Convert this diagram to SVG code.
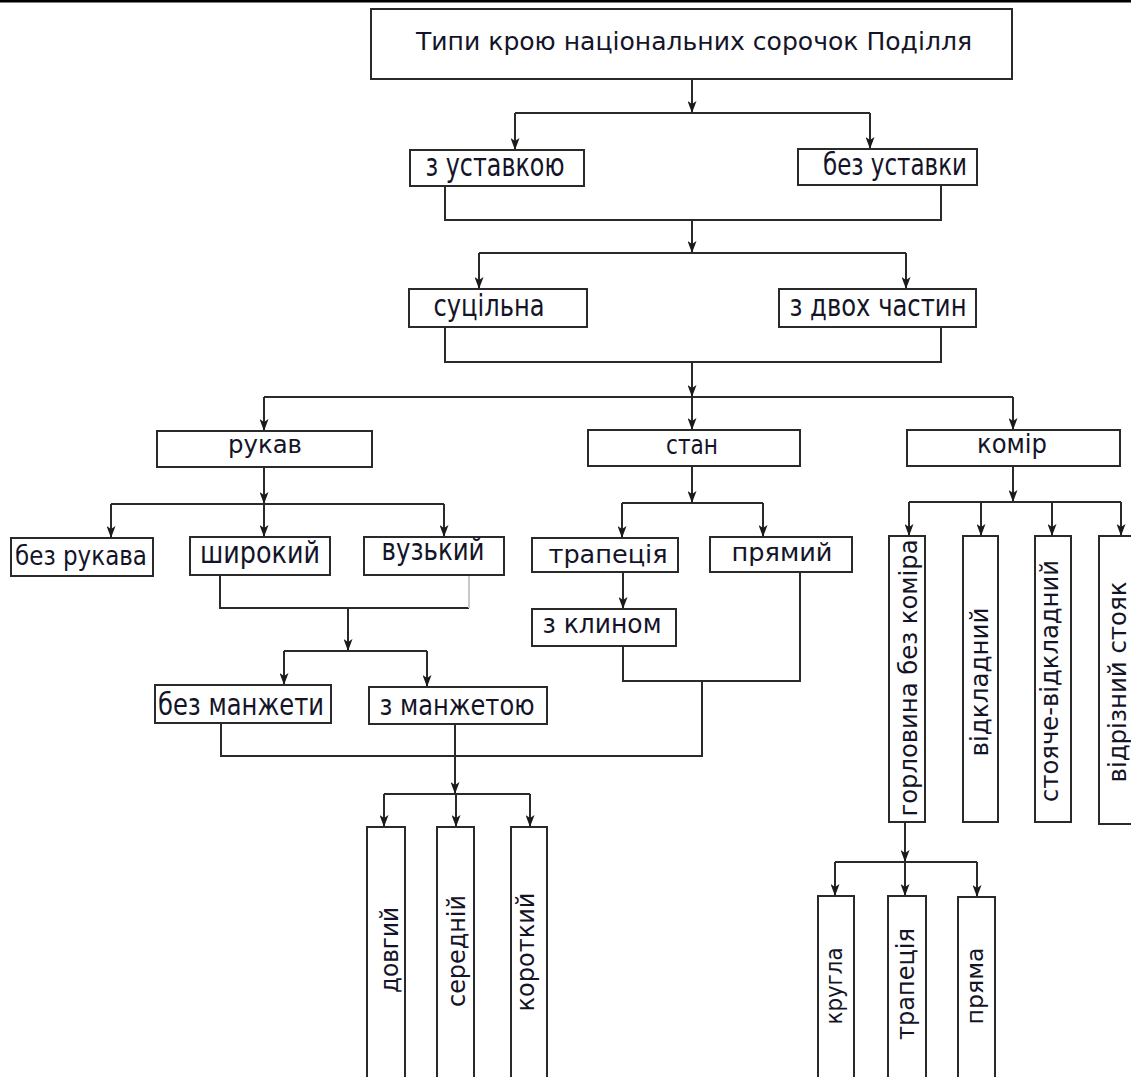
<svg xmlns="http://www.w3.org/2000/svg" width="1131" height="1077" viewBox="0 0 1131 1077">
<style>
.b{fill:#fff;stroke:#2a2a2a;stroke-width:2}
.t{font-family:"DejaVu Sans","Liberation Sans",sans-serif;fill:#141428;text-anchor:middle}
.c{fill:none;stroke:#2a2a2a;stroke-width:2}
.a{fill:none;stroke:#2a2a2a;stroke-width:2;marker-end:url(#ah)}
</style>
<defs>
<marker id="ah" markerUnits="userSpaceOnUse" markerWidth="12" markerHeight="9" refX="12" refY="4.5" orient="auto" viewBox="0 0 12 9">
<path d="M0,0 L12,4.5 L0,9 L3,4.5 Z" fill="#1a1a1a"/>
</marker>
</defs>
<rect x="0" y="0" width="1131" height="2.5" fill="#000"/>
<g id="connectors">
<path class="a" d="M692,79 V113"/>
<path class="c" d="M515,113 H870"/>
<path class="a" d="M515,113 V150"/>
<path class="a" d="M870,113 V149"/>
<path class="c" d="M445,186 V220 H941 V185"/>
<path class="a" d="M692,220 V253"/>
<path class="c" d="M479,253 H906"/>
<path class="a" d="M479,253 V289"/>
<path class="a" d="M906,253 V289"/>
<path class="c" d="M445,327 V362 H941 V327"/>
<path class="a" d="M692,362 V397"/>
<path class="c" d="M264,397 H1013"/>
<path class="a" d="M264,397 V431"/>
<path class="a" d="M692,397 V430"/>
<path class="a" d="M1013,397 V430"/>
<path class="a" d="M264,467 V504"/>
<path class="c" d="M111,504 H444"/>
<path class="a" d="M111,504 V538"/>
<path class="a" d="M264,504 V537"/>
<path class="a" d="M444,504 V537"/>
<path class="c" d="M220,575 V608 H469"/>
<path class="c" d="M469,608 V575" style="stroke:#c8c8c8"/>
<path class="a" d="M348,608 V651"/>
<path class="c" d="M284,651 H427"/>
<path class="a" d="M284,651 V685"/>
<path class="a" d="M427,651 V687"/>
<path class="a" d="M692,466 V503"/>
<path class="c" d="M622,503 H763"/>
<path class="a" d="M622,503 V538"/>
<path class="a" d="M763,503 V537"/>
<path class="a" d="M623,572 V609"/>
<path class="c" d="M623,646 V681 H800 V572"/>
<path class="c" d="M221,723 V756 H702 V681"/>
<path class="a" d="M455,724 V794"/>
<path class="c" d="M384,794 H530"/>
<path class="a" d="M384,794 V827"/>
<path class="a" d="M456,794 V827"/>
<path class="a" d="M530,794 V827"/>
<path class="a" d="M1013,466 V502"/>
<path class="c" d="M909,502 H1121"/>
<path class="a" d="M909,502 V536"/>
<path class="a" d="M981,502 V536"/>
<path class="a" d="M1052,502 V536"/>
<path class="a" d="M1121,502 V536"/>
<path class="a" d="M905,822 V862"/>
<path class="c" d="M835,862 H977"/>
<path class="a" d="M835,862 V896"/>
<path class="a" d="M905,862 V896"/>
<path class="a" d="M977,862 V897"/>
</g>
<g id="n-title"><rect class="b" x="371" y="9" width="641" height="70"/><text class="t" x="694" y="50" font-size="24" textLength="556" lengthAdjust="spacingAndGlyphs">Типи крою національних сорочок Поділля</text></g>
<g id="n-zustavkoyu"><rect class="b" x="410" y="150" width="174" height="36"/><text class="t" x="495" y="176" font-size="32" textLength="139" lengthAdjust="spacingAndGlyphs">з уставкою</text></g>
<g id="n-bezustavky"><rect class="b" x="798" y="149" width="179" height="36"/><text class="t" x="895" y="175" font-size="31" textLength="144" lengthAdjust="spacingAndGlyphs">без уставки</text></g>
<g id="n-sutsilna"><rect class="b" x="409" y="289" width="178" height="38"/><text class="t" x="489" y="316" font-size="31" textLength="111" lengthAdjust="spacingAndGlyphs">суцільна</text></g>
<g id="n-zdvokh"><rect class="b" x="779" y="289" width="197" height="38"/><text class="t" x="878" y="316" font-size="30" textLength="177" lengthAdjust="spacingAndGlyphs">з двох частин</text></g>
<g id="n-rukav"><rect class="b" x="157" y="431" width="215" height="36"/><text class="t" x="265" y="453" font-size="25" textLength="74" lengthAdjust="spacingAndGlyphs">рукав</text></g>
<g id="n-stan"><rect class="b" x="588" y="430" width="212" height="36"/><text class="t" x="692" y="454" font-size="27" textLength="52" lengthAdjust="spacingAndGlyphs">стан</text></g>
<g id="n-komir"><rect class="b" x="907" y="430" width="213" height="36"/><text class="t" x="1012" y="453" font-size="27" textLength="70" lengthAdjust="spacingAndGlyphs">комір</text></g>
<g id="n-bezrukava"><rect class="b" x="11" y="538" width="142" height="38"/><text class="t" x="81" y="565" font-size="27" textLength="132" lengthAdjust="spacingAndGlyphs">без рукава</text></g>
<g id="n-shyrokyi"><rect class="b" x="190" y="537" width="140" height="38"/><text class="t" x="260" y="563" font-size="30" textLength="120" lengthAdjust="spacingAndGlyphs">широкий</text></g>
<g id="n-vuzkyi"><rect class="b" x="364" y="537" width="140" height="38"/><text class="t" x="433" y="560" font-size="30" textLength="103" lengthAdjust="spacingAndGlyphs">вузький</text></g>
<g id="n-trapetsiia"><rect class="b" x="532" y="538" width="146" height="34"/><text class="t" x="608" y="563" font-size="24" textLength="119" lengthAdjust="spacingAndGlyphs">трапеція</text></g>
<g id="n-priamyi"><rect class="b" x="710" y="537" width="142" height="35"/><text class="t" x="782" y="561" font-size="25" textLength="101" lengthAdjust="spacingAndGlyphs">прямий</text></g>
<g id="n-zklynom"><rect class="b" x="532" y="609" width="144" height="37"/><text class="t" x="602" y="633" font-size="26" textLength="119" lengthAdjust="spacingAndGlyphs">з клином</text></g>
<g id="n-bezmanzhety"><rect class="b" x="155" y="685" width="176" height="38"/><text class="t" x="241" y="715" font-size="30" textLength="166" lengthAdjust="spacingAndGlyphs">без манжети</text></g>
<g id="n-zmanzhetoiu"><rect class="b" x="369" y="687" width="178" height="37"/><text class="t" x="457" y="715" font-size="28" textLength="155" lengthAdjust="spacingAndGlyphs">з манжетою</text></g>
<g id="n-horlovyna"><rect class="b" x="889" y="536" width="36" height="286"/><text class="t" transform="translate(917,678) rotate(-90)" x="0" y="0" font-size="24" textLength="277" lengthAdjust="spacingAndGlyphs">горловина без коміра</text></g>
<g id="n-vidkladnyi"><rect class="b" x="963" y="536" width="35" height="286"/><text class="t" transform="translate(988,682) rotate(-90)" x="0" y="0" font-size="24" textLength="149" lengthAdjust="spacingAndGlyphs">відкладний</text></g>
<g id="n-stoiache"><rect class="b" x="1035" y="536" width="36" height="286"/><text class="t" transform="translate(1058,681) rotate(-90)" x="0" y="0" font-size="24" textLength="242" lengthAdjust="spacingAndGlyphs">стояче-відкладний</text></g>
<g id="n-vidriznyi"><rect class="b" x="1099" y="536" width="40" height="288"/><text class="t" transform="translate(1126,682) rotate(-90)" x="0" y="0" font-size="24" textLength="201" lengthAdjust="spacingAndGlyphs">відрізний стояк</text></g>
<g id="n-dovhyi"><rect class="b" x="367" y="827" width="38" height="262"/><text class="t" transform="translate(398,950) rotate(-90)" x="0" y="0" font-size="25" textLength="86" lengthAdjust="spacingAndGlyphs">довгий</text></g>
<g id="n-serednii"><rect class="b" x="437" y="827" width="37" height="262"/><text class="t" transform="translate(465,951) rotate(-90)" x="0" y="0" font-size="25" textLength="112" lengthAdjust="spacingAndGlyphs">середній</text></g>
<g id="n-korotkyi"><rect class="b" x="511" y="827" width="36" height="262"/><text class="t" transform="translate(534,952) rotate(-90)" x="0" y="0" font-size="25" textLength="119" lengthAdjust="spacingAndGlyphs">короткий</text></g>
<g id="n-kruhla"><rect class="b" x="818" y="896" width="36" height="192"/><text class="t" transform="translate(842,986) rotate(-90)" x="0" y="0" font-size="23" textLength="77" lengthAdjust="spacingAndGlyphs">кругла</text></g>
<g id="n-trapetsiia2"><rect class="b" x="888" y="896" width="38" height="192"/><text class="t" transform="translate(914,984) rotate(-90)" x="0" y="0" font-size="24" textLength="112" lengthAdjust="spacingAndGlyphs">трапеція</text></g>
<g id="n-priama"><rect class="b" x="958" y="897" width="37" height="192"/><text class="t" transform="translate(983,986) rotate(-90)" x="0" y="0" font-size="23" textLength="77" lengthAdjust="spacingAndGlyphs">пряма</text></g>
</svg>
